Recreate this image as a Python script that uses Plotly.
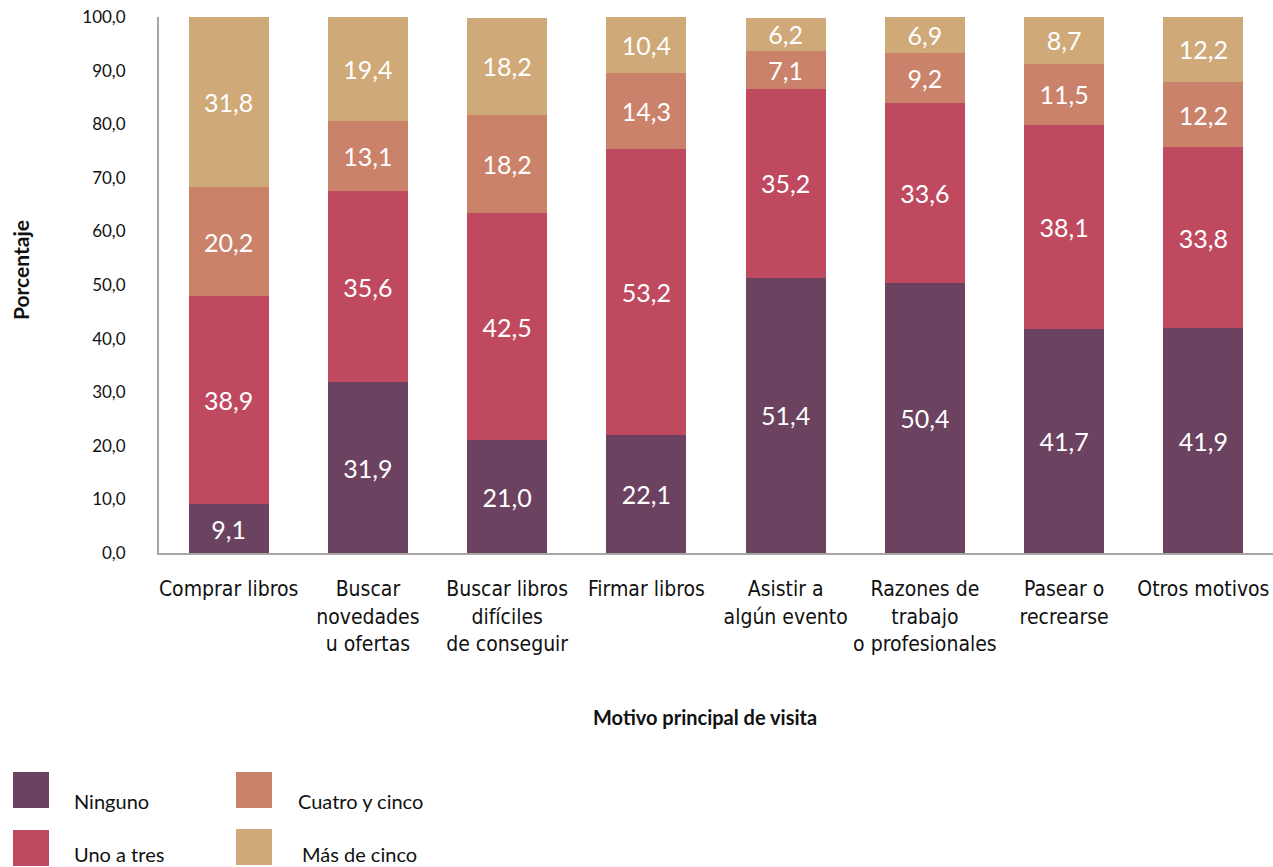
import plotly.graph_objects as go

categories = [
    "Comprar libros",
    "Buscar<br>novedades<br>u ofertas",
    "Buscar libros<br>difíciles<br>de conseguir",
    "Firmar libros",
    "Asistir a<br>algún evento",
    "Razones de<br>trabajo<br>o profesionales",
    "Pasear o<br>recrearse",
    "Otros motivos",
]
ninguno = [9.1, 31.9, 21.0, 22.1, 51.4, 50.4, 41.7, 41.9]
uno_a_tres = [38.9, 35.6, 42.5, 53.2, 35.2, 33.6, 38.1, 33.8]
cuatro_cinco = [20.2, 13.1, 18.2, 14.3, 7.1, 9.2, 11.5, 12.2]
mas_de_cinco = [31.8, 19.4, 18.2, 10.4, 6.2, 6.9, 8.7, 12.2]
y_ticks = [0, 10, 20, 30, 40, 50, 60, 70, 80, 90, 100]

series = [
    ("Ninguno", ninguno, "#6B4260"),
    ("Uno a tres", uno_a_tres, "#BF4A60"),
    ("Cuatro y cinco", cuatro_cinco, "#CB826A"),
    ("Más de cinco", mas_de_cinco, "#CFA978"),
]

def fmt(v):
    return f"{v:.1f}".replace(".", ",")

W, H = 1273, 867
L, R, T, B = 159, 0, 17, 314

fig = go.Figure()
for name, vals, color in series:
    fig.add_trace(go.Bar(
        x=categories, y=vals, name=name,
        marker=dict(color=color, line=dict(width=0)),
        text=[fmt(v) for v in vals],
        textposition="inside", insidetextanchor="middle",
        textangle=0, constraintext="none",
        textfont=dict(color="white", size=25, family="Lato, Open Sans, sans-serif"),
        width=0.575, showlegend=False,
        hoverinfo="skip",
    ))

fig.update_layout(
    barmode="stack",
    width=W, height=H,
    margin=dict(l=L, r=R, t=T, b=B),
    plot_bgcolor="white", paper_bgcolor="white",
    font=dict(family="Lato, Open Sans, sans-serif", color="#111111"),
    xaxis=dict(
        showline=True, linecolor="#A6A6A6", linewidth=2,
        ticks="", showgrid=False, tickangle=0,
        ticklabelstandoff=16,
        tickfont=dict(size=21, family="DejaVu Sans Condensed, Liberation Sans Narrow, sans-serif", color="#111111"),
    ),
    yaxis=dict(
        range=[0, 100], tickvals=y_ticks,
        ticktext=[fmt(v) for v in y_ticks],
        showline=True, linecolor="#A6A6A6", linewidth=2,
        showgrid=False, zeroline=False, ticks="",
        ticklabelstandoff=28,
        tickfont=dict(size=17, color="#111111"),
    ),
    bargap=0.425,
)

def px_x(px):
    return (px - L) / (W - L - R)

def px_y(py):
    return (H - B - py) / (H - T - B)

# axis titles
fig.add_annotation(text="<b>Motivo principal de visita</b>", xref="paper", yref="paper",
                   x=px_x(705), y=px_y(717), showarrow=False,
                   font=dict(size=20, color="#111111"), xanchor="center", yanchor="middle")
fig.add_annotation(text="<b>Porcentaje</b>", xref="paper", yref="paper",
                   x=px_x(20), y=px_y(270), showarrow=False, textangle=-90,
                   font=dict(size=21, color="#111111"), xanchor="center", yanchor="middle")

# manual legend
legend_items = [
    ("Ninguno", "#6B4260", 13, 772, 72, 801),
    ("Uno a tres", "#BF4A60", 13, 830, 72, 854),
    ("Cuatro y cinco", "#CB826A", 236, 772, 296, 801),
    ("Más de cinco", "#CFA978", 236, 829, 300, 854),
]
for label, color, sx, sy, tx, ty in legend_items:
    fig.add_shape(type="rect", xref="paper", yref="paper",
                  x0=px_x(sx), x1=px_x(sx + 36), y0=px_y(sy + 36), y1=px_y(sy),
                  fillcolor=color, line=dict(width=0))
    fig.add_annotation(text=label, xref="paper", yref="paper",
                       x=px_x(tx), y=px_y(ty), showarrow=False,
                       xanchor="left", yanchor="middle",
                       font=dict(size=20, color="#111111"))

fig.write_html("out.html",
               config={"displayModeBar": False},
               post_script="document.body.style.margin='0';document.body.style.overflow='hidden';")
